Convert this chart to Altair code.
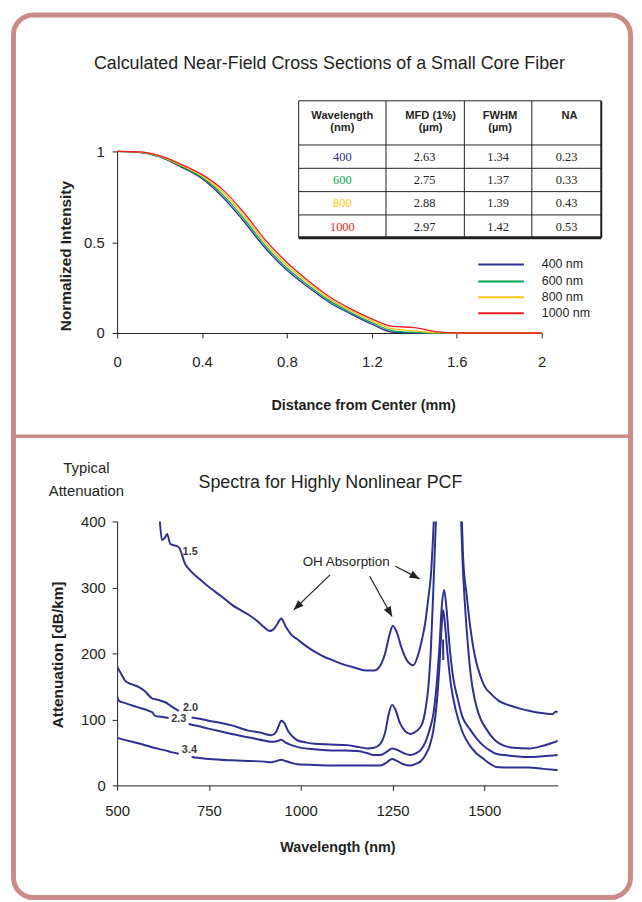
import altair as alt
import pandas as pd

# ---------------- top panel data ----------------
dist = [0.0, 0.1, 0.2, 0.3, 0.4, 0.5, 0.6, 0.7, 0.8, 0.9, 1.0, 1.1, 1.2, 1.3, 1.4, 1.5, 1.6, 2.0]
int_400 = [1.0, 0.995, 0.97, 0.915, 0.85, 0.745, 0.61, 0.464, 0.345, 0.252, 0.168, 0.105, 0.048, 0.004, 0.0, 0.0, 0.0, 0.0]
int_600 = [1.0, 0.996, 0.972, 0.92, 0.857, 0.758, 0.625, 0.478, 0.358, 0.263, 0.178, 0.113, 0.057, 0.012, 0.003, 0.0, 0.0, 0.0]
int_800 = [1.0, 0.997, 0.974, 0.925, 0.864, 0.772, 0.641, 0.494, 0.373, 0.276, 0.189, 0.123, 0.067, 0.022, 0.012, 0.002, 0.0, 0.0]
int_1000 = [1.0, 0.998, 0.977, 0.93, 0.872, 0.787, 0.658, 0.51, 0.388, 0.288, 0.2, 0.133, 0.078, 0.036, 0.03, 0.008, 0.0, 0.0]
series_names = ["400 nm", "600 nm", "800 nm", "1000 nm"]
series_colors = ["#2e3192", "#00a651", "#ffc20e", "#ed1c24"]

tbl_wl = ["400", "600", "800", "1000"]
tbl_mfd = ["2.63", "2.75", "2.88", "2.97"]
tbl_fwhm = ["1.34", "1.37", "1.39", "1.42"]
tbl_na = ["0.23", "0.33", "0.43", "0.53"]
tbl_head1 = ["Wavelength", "MFD (1%)", "FWHM", "NA"]
tbl_head2 = ["(nm)", "(µm)", "(µm)", ""]

# ---------------- bottom panel data ----------------
c15_wl = [612, 616, 622, 630, 636, 645, 668, 685, 700, 722, 745, 766, 790, 812, 835, 857, 880, 900, 915, 925, 937, 947,
          960, 975, 992, 1015, 1037, 1060, 1090, 1118, 1150, 1180, 1200, 1215, 1230, 1242, 1251, 1262, 1275, 1290, 1307,
          1320, 1330, 1339, 1348, 1355, 1361, 1366, 1400, 1438, 1443, 1452, 1462, 1475, 1490, 1501, 1520, 1540, 1570,
          1600, 1622, 1650, 1686, 1695, 1704]
c15_val = [440, 404, 372, 375, 381, 366, 361, 336, 325, 314, 303, 294, 284, 274, 266, 259, 250, 240, 234, 236, 245, 253,
           240, 228, 221, 211, 203, 196, 189, 183, 178, 174, 174, 180, 200, 228, 242, 232, 208, 189, 182,
           198, 220, 245, 285, 320, 380, 440, 700, 420, 341, 290, 240, 195, 165, 150, 138, 128, 121,
           116, 113, 110, 108, 112, 110]

c20a_wl = [500, 510, 523, 541, 559, 575, 595, 610, 631, 650, 668]
c20a_val = [180, 170, 158, 153, 149, 143, 132, 130, 126, 119, 113]
c20b_wl = [703, 725, 749, 780, 812, 835, 857, 890, 920, 932, 940, 947, 955, 965, 978, 992, 1015, 1037, 1080, 1127,
           1160, 1181, 1200, 1217, 1230, 1240, 1249, 1258, 1270, 1285, 1299, 1315, 1330, 1340, 1348, 1355, 1361, 1367,
           1372, 1400, 1436, 1441, 1448, 1456, 1465, 1474, 1485, 1505, 1530, 1550, 1580, 1622, 1660, 1704]
c20b_val = [103, 101, 98, 95, 91, 87, 83, 80, 76, 80, 90, 98, 95, 83, 74, 68, 65, 63, 62, 61,
            58, 56, 57, 63, 80, 108, 122, 115, 95, 82, 78, 82, 92, 115, 150, 210, 290, 380,
            450, 700, 420, 341, 270, 210, 160, 131, 108, 86, 68, 61, 57, 56, 60, 68]

c23a_wl = [500, 505, 520, 541, 565, 586, 597, 604, 620, 640]
c23a_val = [135, 128, 125, 121, 117, 113, 110, 105, 104, 102]
c23b_wl = [695, 720, 749, 780, 812, 845, 874, 900, 920, 935, 947, 958, 975, 992, 1030, 1082, 1120, 1154, 1180, 1199,
           1217, 1235, 1249, 1262, 1280, 1299, 1315, 1326, 1340, 1352, 1362, 1370, 1378, 1385, 1391, 1397, 1405, 1415,
           1428, 1440, 1460, 1478, 1496, 1515, 1532, 1570, 1622, 1660, 1704]
c23b_val = [93, 90, 86, 82, 78, 74, 71, 68, 66, 67, 69, 65, 61, 58, 55, 53, 53, 52, 49, 46,
            46, 51, 56, 54, 49, 46, 49, 53, 66, 86, 110, 150, 210, 275, 296, 270, 215, 165,
            131, 105, 86, 72, 61, 53, 48, 45, 43, 44, 46]

c34a_wl = [500, 520, 541, 570, 600, 631, 650, 668]
c34a_val = [72, 69, 66, 62, 57, 53, 50, 48]
c34b_wl = [703, 750, 812, 860, 902, 920, 935, 947, 958, 975, 992, 1040, 1082, 1150, 1217, 1235, 1249, 1262, 1280, 1299,
           1315, 1326, 1340, 1352, 1362, 1370, 1378, 1384, 1388, 1393, 1400, 1410, 1424, 1440, 1460, 1478, 1496, 1515,
           1532, 1570, 1622, 1660, 1704]
c34b_val = [43, 40, 38, 37, 36, 35, 37, 39, 37, 34, 32, 31, 30, 30, 30, 35, 40, 37, 32, 30,
            33, 36, 46, 61, 85, 120, 180, 240, 266, 245, 200, 150, 111, 82, 61, 49, 41, 33,
            28, 27, 27, 25, 23]
c34c_wl = [1388, 1388.5]
c34c_val = [221, 190]

curve_labels = ["1.5", "2.0", "2.3", "3.4"]
curve_label_wl = [699, 700, 668, 697]
curve_label_val = [353, 117, 100, 53]

oh_text = "OH Absorption"
oh_wl, oh_val = 1124, 338
arrow_from_wl = [1080, 1188, 1258]
arrow_from_val = [319, 317, 332]
arrow_to_wl = [981, 1249, 1324]
arrow_to_val = [266, 256, 313]
arrow_angle = [226, 151, 118]

# ---------------- styling / layout ----------------
SANS = "Liberation Sans"
SERIF = "Liberation Serif"
INK = "#231f20"
NAVY = "#2e3192"
FRAME = "#cb8b86"
TOP_W, TOP_H = 428, 183
BOT_W, BOT_H = 444, 266

one = pd.DataFrame({"k": [0]})

# ---------------- top panel ----------------
top_rows = []
for name, vals in zip(series_names, [int_400, int_600, int_800, int_1000]):
    for d, v in zip(dist, vals):
        top_rows.append({"series": name, "d": d, "v": v})
top_df = pd.DataFrame(top_rows)
color_scale = alt.Scale(domain=series_names, range=series_colors)

frame = alt.Chart(one).mark_rect(fillOpacity=0, stroke=FRAME, strokeWidth=5, cornerRadius=20).encode(
    x=alt.value(-104.5), x2=alt.value(517.5), y=alt.value(-137.5), y2=alt.value(752))
separator = alt.Chart(one).mark_rule(color=FRAME, strokeWidth=3.5).encode(
    x=alt.value(-104.5), x2=alt.value(517.5), y=alt.value(287))
top_title = alt.Chart(one).mark_text(text="Calculated Near-Field Cross Sections of a Small Core Fiber",
                                     font=SANS, fontSize=18, color=INK, baseline="middle").encode(
    x=alt.value(214), y=alt.value(-88))

top_lines = alt.Chart(top_df).mark_line(strokeWidth=1.3, interpolate="monotone").encode(
    x=alt.X("d:Q", scale=alt.Scale(domain=[0, 2], nice=False),
            axis=alt.Axis(values=[0, 0.4, 0.8, 1.2, 1.6, 2], format="~g", title="Distance from Center (mm)",
                          labelPadding=17, titleX=248, titleY=73, titleBaseline="middle", titleFontSize=14.5)),
    y=alt.Y("v:Q", scale=alt.Scale(domain=[0, 1], nice=False),
            axis=alt.Axis(values=[0, 0.5, 1], format="~g", title="Normalized Intensity",
                          labelPadding=8, titleX=-52, titleY=105, titleBaseline="middle", titleFontSize=15.5)),
    color=alt.Color("series:N", scale=color_scale, legend=None),
)

# table
col_edges = [183, 271, 350, 418, 488]
row_edges = [-51, -6.5, 17, 40.5, 64, 87]
col_centers = [227, 310, 384, 453]
head_centers = [227, 316, 386, 456]
row_centers = [5.3, 29.3, 52, 76]
rule_rows = []
for i, y in enumerate(row_edges):
    rule_rows.append({"x1": col_edges[0], "x2": col_edges[-1], "y1": y, "y2": y, "w": 3 if i == len(row_edges) - 1 else 1})
for i, x in enumerate(col_edges):
    rule_rows.append({"x1": x, "x2": x, "y1": row_edges[0], "y2": row_edges[-1], "w": 2 if i == len(col_edges) - 1 else 1})
tbl_rules = alt.Chart(pd.DataFrame(rule_rows)).mark_rule(color=INK).encode(
    x=alt.X("x1:Q", scale=None, axis=None), x2="x2:Q",
    y=alt.Y("y1:Q", scale=None, axis=None), y2="y2:Q",
    strokeWidth=alt.StrokeWidth("w:Q", scale=None, legend=None))

head_rows = []
for j in range(4):
    head_rows.append({"t": tbl_head1[j], "x": head_centers[j], "y": -35.5})
    if tbl_head2[j]:
        head_rows.append({"t": tbl_head2[j], "x": head_centers[j], "y": -24.0})
tbl_head = alt.Chart(pd.DataFrame(head_rows)).mark_text(font=SANS, fontSize=11.2, fontWeight="bold", color=INK,
                                                       baseline="middle").encode(
    x=alt.X("x:Q", scale=None, axis=None), y=alt.Y("y:Q", scale=None, axis=None), text="t:N")

cell_rows = []
for i in range(4):
    for j, col in enumerate([tbl_wl, tbl_mfd, tbl_fwhm, tbl_na]):
        cell_rows.append({"t": col[i], "x": col_centers[j], "y": row_centers[i],
                          "c": series_colors[i] if j == 0 else INK})
tbl_cells = alt.Chart(pd.DataFrame(cell_rows)).mark_text(font=SERIF, fontSize=12.5, baseline="middle").encode(
    x=alt.X("x:Q", scale=None, axis=None), y=alt.Y("y:Q", scale=None, axis=None), text="t:N",
    color=alt.Color("c:N", scale=None, legend=None))

# legend (manual)
leg_y = [114, 131, 147, 163]
leg_df = pd.DataFrame({"series": series_names, "ly": leg_y, "lx1": [364] * 4, "lx2": [410] * 4, "tx": [428] * 4})
leg_rules = alt.Chart(leg_df).mark_rule(strokeWidth=2).encode(
    x=alt.X("lx1:Q", scale=None, axis=None), x2="lx2:Q", y=alt.Y("ly:Q", scale=None, axis=None),
    color=alt.Color("series:N", scale=color_scale, legend=None))
leg_text = alt.Chart(leg_df).mark_text(font=SANS, fontSize=12.5, color=INK, align="left", baseline="middle").encode(
    x=alt.X("tx:Q", scale=None, axis=None), y=alt.Y("ly:Q", scale=None, axis=None), text="series:N")

top = alt.layer(frame, separator, top_title, top_lines, tbl_rules, tbl_head, tbl_cells, leg_rules, leg_text).properties(
    width=TOP_W, height=TOP_H)

# ---------------- bottom panel ----------------
bot_rows = []
segs = [("1.5", "a", c15_wl, c15_val), ("2.0", "a", c20a_wl, c20a_val), ("2.0", "b", c20b_wl, c20b_val),
        ("2.3", "a", c23a_wl, c23a_val), ("2.3", "b", c23b_wl, c23b_val),
        ("3.4", "a", c34a_wl, c34a_val), ("3.4", "b", c34b_wl, c34b_val), ("3.4", "c", c34c_wl, c34c_val)]
for cname, seg, wls, vals in segs:
    for w, v in zip(wls, vals):
        bot_rows.append({"curve": cname + seg, "wl": w, "att": v})
bot_df = pd.DataFrame(bot_rows)

xs = alt.Scale(domain=[500, 1700], nice=False)
ys = alt.Scale(domain=[0, 400], nice=False)

bot_lines = alt.Chart(bot_df).mark_line(color=NAVY, strokeWidth=2, interpolate="monotone", clip=True).encode(
    x=alt.X("wl:Q", scale=xs, axis=alt.Axis(values=[500, 750, 1000, 1250, 1500], format="d", title="Wavelength (nm)",
                                             labelPadding=13, titleY=63, titleBaseline="middle", titleFontSize=14.5)),
    y=alt.Y("att:Q", scale=ys, axis=alt.Axis(values=[0, 100, 200, 300, 400], format="d", title="Attenuation [dB/km]",
                                              labelPadding=7, titleX=-60, titleY=134, titleBaseline="middle",
                                              titleFontSize=15.5)),
    detail="curve:N")

lab_df = pd.DataFrame({"t": curve_labels, "wl": curve_label_wl, "att": curve_label_val})
bot_labels = alt.Chart(lab_df).mark_text(font=SANS, fontSize=11, fontWeight="bold", color="#3a3a3a",
                                         baseline="middle").encode(
    x=alt.X("wl:Q", scale=xs), y=alt.Y("att:Q", scale=ys), text="t:N")

oh = alt.Chart(pd.DataFrame({"t": [oh_text], "wl": [oh_wl], "att": [oh_val]})).mark_text(
    font=SANS, fontSize=13.5, color=INK, baseline="middle").encode(
    x=alt.X("wl:Q", scale=xs), y=alt.Y("att:Q", scale=ys), text="t:N")

arr_df = pd.DataFrame({"wl": arrow_from_wl, "att": arrow_from_val, "wl2": arrow_to_wl, "att2": arrow_to_val,
                       "ang": arrow_angle})
arr_lines = alt.Chart(arr_df).mark_rule(color=INK, strokeWidth=1.2).encode(
    x=alt.X("wl:Q", scale=xs), x2="wl2:Q", y=alt.Y("att:Q", scale=ys), y2="att2:Q")
arr_heads = alt.Chart(arr_df).mark_point(shape="M0,0L-0.8,2L0.8,2Z", filled=True, size=100, color=INK,
                                         opacity=1).encode(
    x=alt.X("wl2:Q", scale=xs), y=alt.Y("att2:Q", scale=ys), angle=alt.Angle("ang:Q", scale=None))

bot_title = alt.Chart(one).mark_text(text="Spectra for Highly Nonlinear PCF", font=SANS, fontSize=18, color=INK,
                                     baseline="middle").encode(x=alt.value(215), y=alt.value(-39))
typ = alt.Chart(one).mark_text(text=["Typical", "Attenuation"], font=SANS, fontSize=15, color=INK,
                               baseline="middle", lineHeight=23).encode(x=alt.value(-31), y=alt.value(-54))

bottom = alt.layer(bot_title, typ, bot_lines, bot_labels, oh, arr_lines, arr_heads).properties(width=BOT_W, height=BOT_H)

chart = alt.vconcat(top, bottom, spacing=190, bounds="flush").properties(
    padding={"left": 2, "top": 0, "right": 0, "bottom": 0}
).configure_view(stroke="transparent").configure_axis(
    grid=False, domainColor=INK, tickColor=INK, labelColor=INK, titleColor=INK, tickSize=5, labelFlush=False,
    labelFont=SANS, labelFontSize=15, titleFont=SANS, titleFontWeight="bold",
    domainWidth=1, tickWidth=1
)

chart.save("out.html", embed_options={"renderer": "svg", "actions": False})
